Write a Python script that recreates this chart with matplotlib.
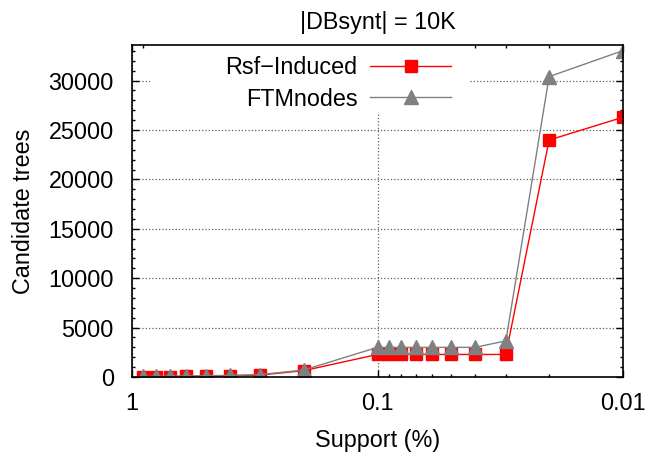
import numpy as np
import matplotlib as mpl
import matplotlib.pyplot as plt
from matplotlib.patches import Rectangle
from matplotlib.ticker import FixedLocator, FixedFormatter, MultipleLocator, LogLocator, NullFormatter

plt.rcParams['font.family'] = ['Liberation Sans', 'DejaVu Sans']
plt.rcParams['font.size'] = 16.8

# support thresholds (%) and number of candidate trees
support = [0.9, 0.8, 0.7, 0.6, 0.5, 0.4, 0.3, 0.2,
           0.1, 0.09, 0.08, 0.07, 0.06, 0.05, 0.04, 0.03, 0.02, 0.01]
rsf_induced = [20, 30, 40, 70, 80, 100, 200, 640,
               2280, 2280, 2280, 2280, 2280, 2280, 2280, 2280, 23980, 26290]
ftm_nodes = [60, 70, 80, 110, 130, 170, 250, 700,
             3000, 3000, 3000, 3000, 3000, 3000, 3000, 3660, 30400, 33030]

title = "|DBsynt| = 10K"
xticks = [1, 0.1, 0.01]
xtick_labels = ["1", "0.1", "0.01"]

W, H = 649, 459
fig = plt.figure(figsize=(W/100, H/100), dpi=100)
ax = fig.add_axes([132/W, 1-377/H, (623-132)/W, (377-45)/H])

ax.plot(support, rsf_induced, color='#ff0000', lw=1.0, marker='s', ms=9.2,
        label='Rsf\u2212Induced', zorder=3)
ax.plot(support, ftm_nodes, color='#808080', lw=1.0, marker='^', ms=9.5,
        label='FTMnodes', zorder=3)

ax.set_xscale('log')
ax.set_xlim(1, 0.01)
ax.set_ylim(0, 33600)
ax.xaxis.set_major_locator(FixedLocator(xticks))
ax.xaxis.set_major_formatter(FixedFormatter(xtick_labels))
ax.xaxis.set_minor_locator(LogLocator(subs=np.arange(2, 10)))
ax.xaxis.set_minor_formatter(NullFormatter())
ax.yaxis.set_major_locator(MultipleLocator(5000))
ax.yaxis.set_minor_locator(MultipleLocator(1000))

ax.tick_params(which='both', direction='in', top=True, right=True, width=1.0)
ax.tick_params(which='major', length=5)
ax.tick_params(which='minor', length=2.5)
ax.tick_params(axis='x', which='major', pad=11)
ax.tick_params(axis='y', which='major', pad=13)
for s in ax.spines.values():
    s.set_linewidth(1.2)
    s.set_zorder(4)

ax.grid(which='major', ls=':', color='#606060', lw=0.9)
ax.set_axisbelow(True)

# opaque key area hides the grid behind it
ax.add_patch(Rectangle((150/W, 1-113/H), (469-150)/W, (113-45)/H,
                       transform=fig.transFigure, facecolor='white',
                       edgecolor='none', zorder=2))

ax.set_xlabel("Support (%)", labelpad=10)
ax.set_ylabel("Candidate trees", labelpad=10)
fig.text(377.5/W, 1-22/H, title, ha='center', va='center')

leg = ax.legend(loc='upper right', bbox_to_anchor=(451/W, 1-56/H),
                bbox_transform=fig.transFigure, markerfirst=False,
                frameon=False, handlelength=3.45, handletextpad=0.56,
                labelspacing=0.37, borderpad=0, borderaxespad=0)
for t in leg.get_texts():
    t.set_ha('right')

fig.savefig("out.png", dpi=100)
